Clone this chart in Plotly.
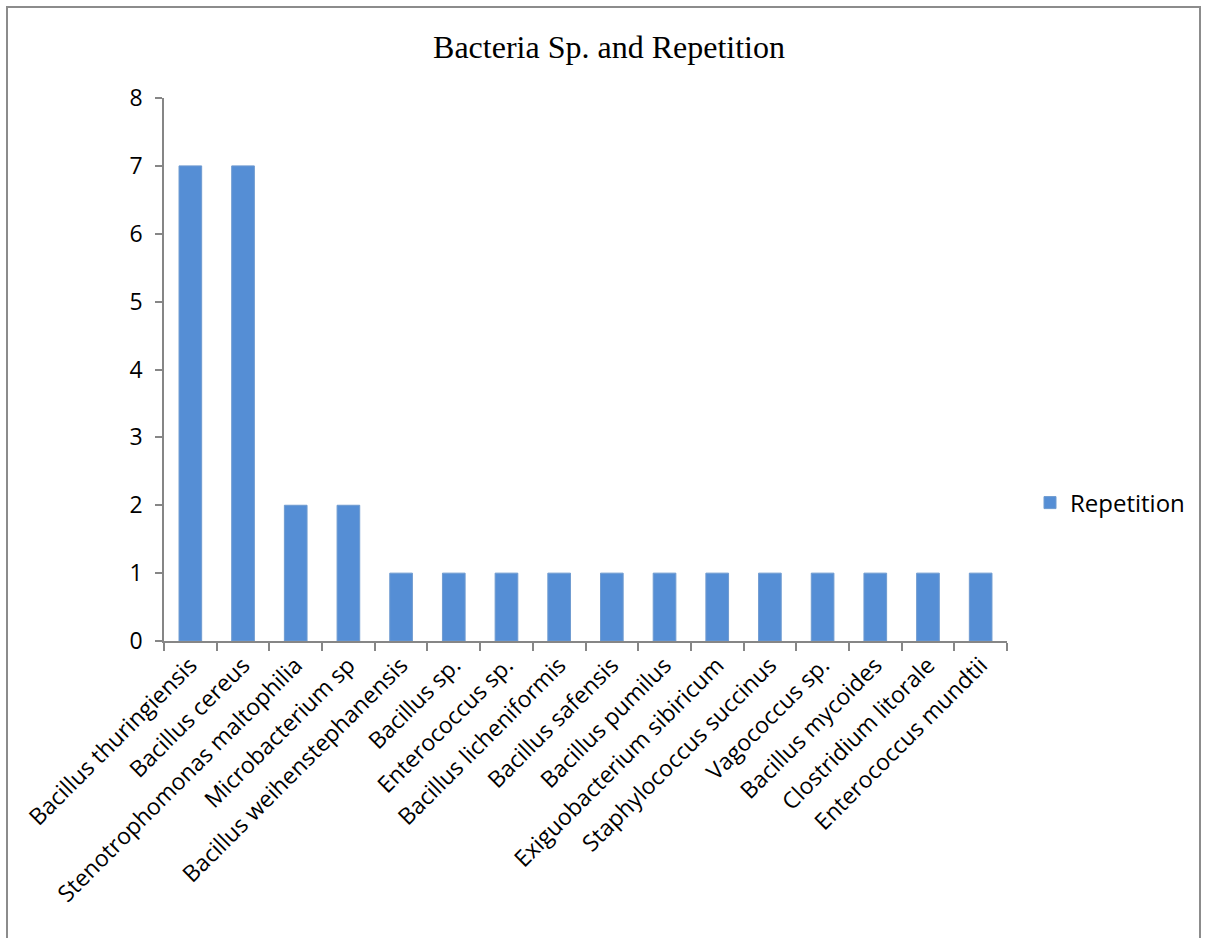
import plotly.graph_objects as go

# Bacterial species and how many times each was found
species = [
    "Bacillus thuringiensis", "Bacillus cereus", "Stenotrophomonas maltophilia",
    "Microbacterium sp", "Bacillus weihenstephanensis", "Bacillus sp.",
    "Enterococcus sp.", "Bacillus licheniformis", "Bacillus safensis",
    "Bacillus pumilus", "Exiguobacterium sibiricum", "Staphylococcus succinus",
    "Vagococcus sp.", "Bacillus mycoides", "Clostridium litorale",
    "Enterococcus mundtii",
]
repetition = [7, 7, 2, 2, 1, 1, 1, 1, 1, 1, 1, 1, 1, 1, 1, 1]
y_ticks = [0, 1, 2, 3, 4, 5, 6, 7, 8]

W, H = 1205, 938
L, R, T, B = 164, 1007, 98, 641  # plot area in pixels

def px_x(x):
    return (x - L) / (R - L)

def px_y(y):
    return (B - y) / (B - T)

axis_grey = "#868686"
sans = "Open Sans, Liberation Sans, sans-serif"
label_font = dict(family=sans, size=23, color="black")

fig = go.Figure(
    go.Bar(
        x=species,
        y=repetition,
        name="Repetition",
        marker=dict(color="#558ed5", line=dict(color="#6f9bd0", width=1)),
    )
)

fig.update_layout(
    width=W,
    height=H,
    margin=dict(l=L, r=W - R, t=T, b=H - B),
    paper_bgcolor="white",
    plot_bgcolor="white",
    bargap=0.57,
    title=dict(
        text="Bacteria Sp. and Repetition",
        font=dict(family="Liberation Serif, Times New Roman, serif", size=32, color="black"),
        x=609 / W,
        xanchor="center",
        y=1 - 47 / H,
        yanchor="middle",
    ),
    showlegend=True,
    legend=dict(
        x=px_x(1030),
        xanchor="left",
        y=px_y(503),
        yanchor="middle",
        font=dict(family=sans, size=24, color="black"),
        itemwidth=30,
        bgcolor="rgba(0,0,0,0)",
    ),
    xaxis=dict(
        type="category",
        showline=True,
        linecolor=axis_grey,
        linewidth=1.5,
        ticks="outside",
        tickson="boundaries",
        ticklen=8,
        tickcolor=axis_grey,
        tickwidth=1.5,
        tickangle=-45,
        tickfont=label_font,
        showgrid=False,
    ),
    yaxis=dict(
        range=[0, 8],
        tickvals=y_ticks,
        showline=True,
        linecolor=axis_grey,
        linewidth=1.5,
        ticks="outside",
        ticklen=7,
        tickcolor=axis_grey,
        tickwidth=1.5,
        tickfont=dict(family=sans, size=23, color="black"),
        ticklabelstandoff=8,
        showgrid=False,
        zeroline=False,
    ),
    shapes=[
        dict(
            type="rect",
            xref="paper",
            yref="paper",
            x0=px_x(7),
            x1=px_x(1200),
            y0=px_y(960),
            y1=px_y(7),
            line=dict(color="#8c8c8c", width=2),
            fillcolor="rgba(0,0,0,0)",
            layer="below",
        )
    ],
)

fig.write_html("out.html")
